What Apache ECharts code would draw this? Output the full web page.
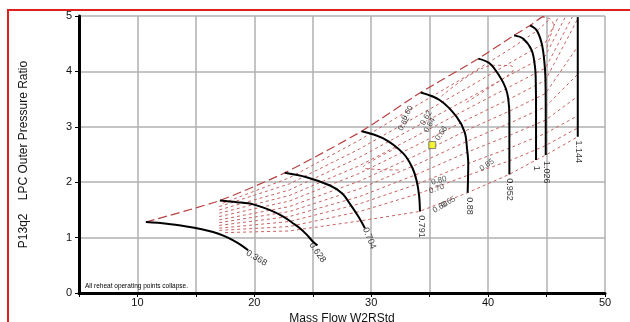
<!DOCTYPE html>
<html><head><meta charset="utf-8">
<script src="https://cdn.jsdelivr.net/npm/echarts@6/dist/echarts.min.js"></script>
<style>html,body{margin:0;padding:0;background:#fff}#c{width:630px;height:322px}</style>
</head><body><div id="c"></div>
<script>
// ---- speed lines (black) ----
const speedNames = ['0.368','0.628','0.704','0.791','0.88','0.952','1','1.026','1.144'];
const s0368 = [[10.72,1.28],[12.5,1.25],[14.2,1.20],[15.5,1.15],[16.47,1.10],[17.4,1.03],[18.19,0.95],[18.9,0.86],[19.47,0.77]];
const s0628 = [[17.05,1.67],[18.5,1.64],[19.9,1.60],[21.3,1.50],[22.47,1.38],[23.3,1.26],[23.9,1.17],[24.5,1.05],[25.0,0.93],[25.4,0.86]];
const s0704 = [[22.6,2.17],[24.47,2.09],[26.47,1.94],[27.5,1.80],[28.18,1.61],[28.9,1.38],[29.46,1.17]];
const s0791 = [[29.18,2.92],[31.03,2.79],[32.74,2.52],[33.5,2.27],[33.88,2.03],[34.1,1.75],[34.17,1.47]];
const s088  = [[34.23,3.62],[35.88,3.48],[37.31,3.18],[38.0,2.9],[38.2,2.6],[38.3,2.34],[38.25,1.81]];
const s0952 = [[39.16,4.23],[40.16,4.14],[41.02,3.90],[41.5,3.70],[41.73,3.50],[41.82,3.18],[41.82,2.14]];
const s1    = [[42.22,4.65],[43.0,4.59],[43.73,4.38],[44.0,4.1],[44.07,3.90],[44.1,3.30],[44.1,2.40]];
const s1026 = [[43.59,4.83],[44.16,4.74],[44.59,4.50],[44.8,4.2],[44.9,3.90],[44.93,3.30],[44.93,2.49]];
const s1144 = [[47.67,4.98],[47.67,2.82]];
const speedLines = [s0368,s0628,s0704,s0791,s088,s0952,s1,s1026,s1144];
// speed-line labels: [x, y, rotation]
const speedLabelPos = [[20.19,0.63,-31],[25.4,0.73,-55],[29.83,0.99,-68],[34.26,1.20,-90],[38.37,1.57,-90],[41.86,1.87,-90],[44.16,2.25,-90],[45.02,2.18,-90],[47.72,2.55,-90]];

// ---- surge line ----
const surge = [[10.72,1.28],[17.05,1.67],[22.6,2.17],[29.18,2.92],[34.23,3.62],[39.16,4.23],[42.22,4.65],[43.59,4.83],[44.6,4.98],[45.0,5.0]];

// ---- beta lines (red dashed) ----
const beta0  = [[17.3,1.62],[23,2.08],[29,2.76],[34,3.40],[38.2,3.92],[42,4.42],[44.3,4.75],[45.3,4.95]];
const beta1  = [[17,1.56],[23,1.97],[29,2.60],[34,3.20],[38.2,3.70],[42,4.17],[44.9,4.52],[46.0,4.98]];
const beta2  = [[17,1.50],[23,1.86],[29,2.45],[34,3.02],[38.2,3.50],[42,3.95],[44.9,4.28],[46.6,4.98]];
const beta3  = [[17,1.44],[23,1.76],[29,2.30],[34,2.85],[38.2,3.32],[42,3.74],[44.9,4.06],[47.2,4.98]];
const beta4  = [[17,1.38],[23,1.66],[29,2.16],[34,2.68],[38.2,3.13],[42,3.52],[44.9,3.84],[47.67,4.95]];
const beta5  = [[17,1.32],[23,1.56],[29,2.02],[34,2.50],[38.2,2.94],[42,3.30],[44.9,3.60],[47.67,4.45]];
const beta6  = [[17,1.27],[23,1.47],[29,1.88],[34,2.33],[38.2,2.74],[42,3.08],[44.9,3.36],[47.67,3.95]];
const beta7  = [[17,1.22],[23,1.38],[29,1.74],[34,2.15],[38.2,2.54],[42,2.86],[44.9,3.12],[47.67,3.55]];
const beta8  = [[17,1.17],[23,1.29],[29,1.61],[34,1.97],[38.2,2.33],[42,2.63],[44.9,2.88],[47.67,3.20]];
const beta9  = [[17,1.13],[23,1.20],[29,1.47],[34,1.79],[38.2,2.12],[42,2.40],[44.9,2.66],[47.67,2.98]];
const beta10 = [[17.5,1.09],[23,1.12],[29,1.30],[34.1,1.47],[38.25,1.81],[41.8,2.14],[44.1,2.40],[44.93,2.49],[47.67,2.82]];
const betaLines = [beta0,beta1,beta2,beta3,beta4,beta5,beta6,beta7,beta8,beta9,beta10];

// ---- efficiency contour fragments ----
const effPeak = [[44.6,4.98],[45.3,4.95],[45.6,4.83],[45.3,4.62],[45.0,4.41]];
const effHook = [[36,3.55],[40.45,4.11],[42.0,4.1],[42.15,4.03],[41.7,3.93],[38,3.42]];
const effTip  = [[32.2,2.62],[29.3,2.27],[32.6,2.22]];
const effLines = [effPeak,effHook,effTip];
const effLabels = [['0.60',33.1,3.25,60],['0.62',32.8,3.06,60],['0.62',34.7,3.16,60],['0.64',35.0,3.03,60],['0.66',36.0,2.88,55],['0.85',39.9,2.31,35],['0.80',35.8,2.03,15],['0.70',35.6,1.88,20],['0.65',36.6,1.64,30],['0.60',35.9,1.55,30]];

// ---- operating point ----
const opPoint = [[35.22,2.67]];

// ---- axes ----
const xMin = 5, xMax = 50, xStep = 5;
const yMin = 0, yMax = 5, yStep = 1;

const series = [];
betaLines.forEach(d => series.push({type:'line',data:d,symbol:'none',silent:true,
  lineStyle:{color:'#c86262',width:1,type:[3,3]},z:2}));
effLines.forEach(d => series.push({type:'line',data:d,symbol:'none',silent:true,smooth:0.3,
  lineStyle:{color:'#c86262',width:1,type:[3,3]},z:2}));
series.push({type:'line',data:surge,symbol:'none',silent:true,smooth:0.2,
  lineStyle:{color:'#b84040',width:1.2,type:[9,4]},z:3});
speedLines.forEach(d => series.push({type:'line',data:d,symbol:'none',silent:true,smooth:0.35,
  lineStyle:{color:'#000',width:2},z:4}));
series.push({type:'scatter',symbolSize:0,silent:true,z:6,
  data:speedLabelPos.map((p,i)=>({value:[p[0],p[1]],name:speedNames[i],label:{rotate:p[2]}})),
  label:{show:true,position:'inside',formatter:'{b}',color:'#000',fontSize:9,fontFamily:'Arial, Liberation Sans'}});
series.push({type:'scatter',symbolSize:0,silent:true,z:6,
  data:effLabels.map(p=>({value:[p[1],p[2]],name:p[0],label:{rotate:p[3]}})),
  label:{show:true,position:'inside',formatter:'{b}',color:'#222',fontSize:8,fontFamily:'Arial, Liberation Sans'}});
series.push({type:'scatter',data:opPoint,symbol:'rect',symbolSize:7,silent:true,z:7,
  itemStyle:{color:'#f2f200',borderColor:'#666',borderWidth:1}});

const chart = echarts.init(document.getElementById('c'),null,{renderer:'canvas'});
chart.setOption({
  animation:false,
  backgroundColor:'#fff',
  grid:{left:79,right:25,top:16,bottom:29,containLabel:false,outerBoundsMode:'none'},
  xAxis:{type:'value',min:xMin,max:xMax,interval:xStep,
    name:'Mass Flow W2RStd',nameLocation:'middle',nameGap:16,
    nameTextStyle:{fontSize:12,color:'#111',fontFamily:'Arial, Liberation Sans'},
    axisLine:{show:true,onZero:false,lineStyle:{color:'#000',width:3}},
    axisTick:{show:true,length:4,lineStyle:{color:'#000',width:1}},
    axisLabel:{fontSize:11,color:'#111',margin:4,fontFamily:'Arial, Liberation Sans',
      formatter:v=>(v%10===0?String(v):'')},
    splitLine:{show:true,lineStyle:{color:'#b0b0b0',width:1.5}}},
  yAxis:{type:'value',min:yMin,max:yMax,interval:yStep,
    name:'P13q2    LPC Outer Pressure Ratio',nameLocation:'middle',nameGap:49,
    nameTextStyle:{fontSize:12,color:'#111',fontFamily:'Arial, Liberation Sans'},
    axisLine:{show:true,onZero:false,lineStyle:{color:'#000',width:3}},
    axisTick:{show:true,length:4,lineStyle:{color:'#000',width:1}},
    axisLabel:{fontSize:11,color:'#111',margin:7,fontFamily:'Arial, Liberation Sans'},
    splitLine:{show:true,lineStyle:{color:'#b0b0b0',width:1.5}}},
  graphic:[
    {type:'rect',shape:{x:8,y:10,width:700,height:400},style:{fill:'none',stroke:'#e02020',lineWidth:2},z:100,silent:true},
    {type:'text',left:85,top:283,style:{text:'All reheat operating points collapse.',fontSize:6.5,fill:'#000',fontFamily:'Arial, Liberation Sans'},z:100}
  ],
  series:series
});
</script></body></html>
